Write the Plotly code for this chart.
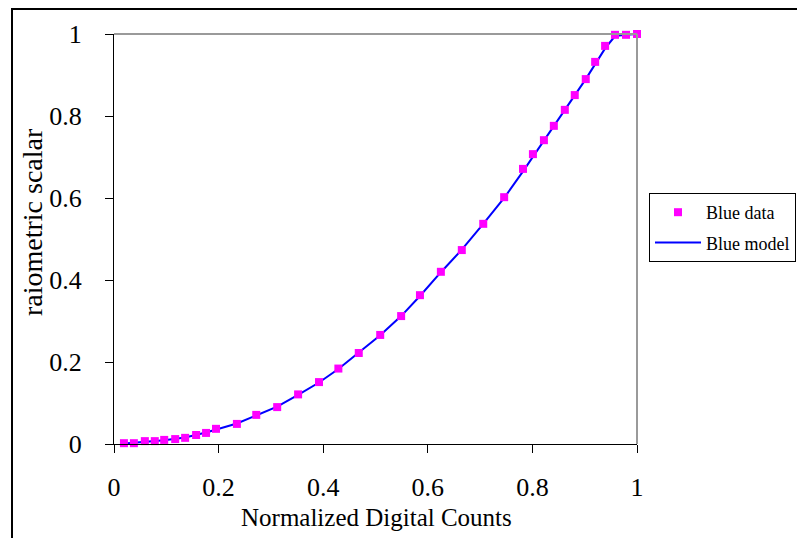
import plotly.graph_objects as go

# Data
data_x = [0.019, 0.038, 0.059, 0.078, 0.096, 0.117, 0.136, 0.157, 0.176, 0.195,
          0.235, 0.272, 0.312, 0.352, 0.392, 0.429, 0.468, 0.509, 0.549, 0.585,
          0.625, 0.665, 0.706, 0.746, 0.782, 0.801, 0.822, 0.841, 0.862, 0.881,
          0.902, 0.920, 0.939, 0.958, 0.979, 1.000]
data_y = [0.002, 0.002, 0.007, 0.007, 0.010, 0.012, 0.015, 0.022, 0.027, 0.037,
          0.049, 0.071, 0.090, 0.121, 0.151, 0.184, 0.222, 0.266, 0.312, 0.363,
          0.420, 0.473, 0.537, 0.602, 0.671, 0.707, 0.741, 0.776, 0.815, 0.851,
          0.890, 0.932, 0.971, 0.998, 0.998, 1.000]

model_x = [0.019, 0.059, 0.096, 0.136, 0.176, 0.235, 0.272, 0.312, 0.352, 0.392,
           0.429, 0.468, 0.509, 0.549, 0.585, 0.625, 0.665, 0.706, 0.746, 0.782,
           0.822, 0.862, 0.902, 0.939, 0.958, 0.979, 1.000]
model_y = [0.001, 0.005, 0.009, 0.016, 0.028, 0.050, 0.069, 0.091, 0.120, 0.150,
           0.183, 0.222, 0.265, 0.312, 0.361, 0.419, 0.474, 0.537, 0.600, 0.665,
           0.741, 0.815, 0.890, 0.965, 0.995, 0.998, 1.000]

x_ticks = [0, 0.2, 0.4, 0.6, 0.8, 1]
y_ticks = [0, 0.2, 0.4, 0.6, 0.8, 1]
x_tick_text = ["0", "0.2", "0.4", "0.6", "0.8", "1"]
y_tick_text = ["0", "0.2", "0.4", "0.6", "0.8", "1"]

FONT = "Liberation Serif, Times New Roman, serif"

fig = go.Figure()
# model line first so that it is drawn beneath the markers
fig.add_trace(go.Scatter(
    x=model_x, y=model_y, mode="lines", name="Blue model", legendgroup="b",
    legendrank=2, line=dict(color="#0000FF", width=2), cliponaxis=False,
))
fig.add_trace(go.Scatter(
    x=data_x, y=data_y, mode="markers", name="Blue data", legendgroup="a",
    legendrank=1,
    marker=dict(symbol="square", size=8, color="#FF00FF", line=dict(width=0)),
    cliponaxis=False,
))

# page has an 8px body margin; figure coordinates = screen - 8
OFF = 8
W, H = 805 - OFF, 538 - OFF
L, R, T, B = 114 - OFF, 637 - OFF, 34 - OFF, 444 - OFF
pw, ph = R - L, B - T


def px(v):
    return (v - OFF - L) / pw


def py(v):
    return (B - (v - OFF)) / ph


fig.update_layout(
    width=W, height=H, autosize=False,
    margin=dict(l=L, r=W - R, t=T, b=H - B, pad=0, autoexpand=False),
    paper_bgcolor="white", plot_bgcolor="white",
    font=dict(family=FONT, color="black"),
    showlegend=True,
    legend=dict(
        xref="container", yref="container",
        x=(649 - OFF) / W, y=1 - (193 - OFF) / H, xanchor="left", yanchor="top",
        bgcolor="white", bordercolor="black", borderwidth=1,
        font=dict(family=FONT, size=18, color="black"),
        traceorder="grouped", itemwidth=46, tracegroupgap=4,
    ),
    xaxis=dict(
        range=[0, 1], tickvals=x_ticks, ticktext=x_tick_text,
        showgrid=False, zeroline=False, showline=True, linecolor="black", linewidth=1,
        ticks="outside", ticklen=8, tickcolor="black", tickwidth=1,
        tickfont=dict(family=FONT, size=26, color="black"),
        ticklabelstandoff=12, fixedrange=True, automargin=False,
    ),
    yaxis=dict(
        range=[0, 1], tickvals=y_ticks, ticktext=y_tick_text,
        showgrid=False, zeroline=False, showline=True, linecolor="black", linewidth=1,
        ticks="outside", ticklen=8, tickcolor="black", tickwidth=1,
        tickfont=dict(family=FONT, size=26, color="black"),
        ticklabelstandoff=18, fixedrange=True, automargin=False,
    ),
    shapes=[
        # grey top and right plot border
        dict(type="line", xref="paper", yref="paper", x0=0, x1=1, y0=1, y1=1,
             line=dict(color="#9a9a9a", width=2)),
        dict(type="line", xref="paper", yref="paper", x0=1, x1=1, y0=0, y1=1,
             line=dict(color="#9a9a9a", width=2)),
        # outer chart frame
        dict(type="line", xref="paper", yref="paper", x0=px(12), x1=px(12),
             y0=py(545), y1=py(8), line=dict(color="black", width=2)),
        dict(type="line", xref="paper", yref="paper", x0=px(12), x1=px(810),
             y0=py(9), y1=py(9), line=dict(color="black", width=2)),
    ],
    annotations=[
        dict(text="Normalized Digital Counts", xref="paper", yref="paper",
             x=px(376), y=py(517), xanchor="center", yanchor="middle",
             showarrow=False, font=dict(family=FONT, size=25, color="black")),
        dict(text="raiometric scalar", xref="paper", yref="paper",
             x=px(33), y=py(222), xanchor="center", yanchor="middle",
             textangle=-90, showarrow=False,
             font=dict(family=FONT, size=28, color="black")),
    ],
)

fig.write_html("out.html")
